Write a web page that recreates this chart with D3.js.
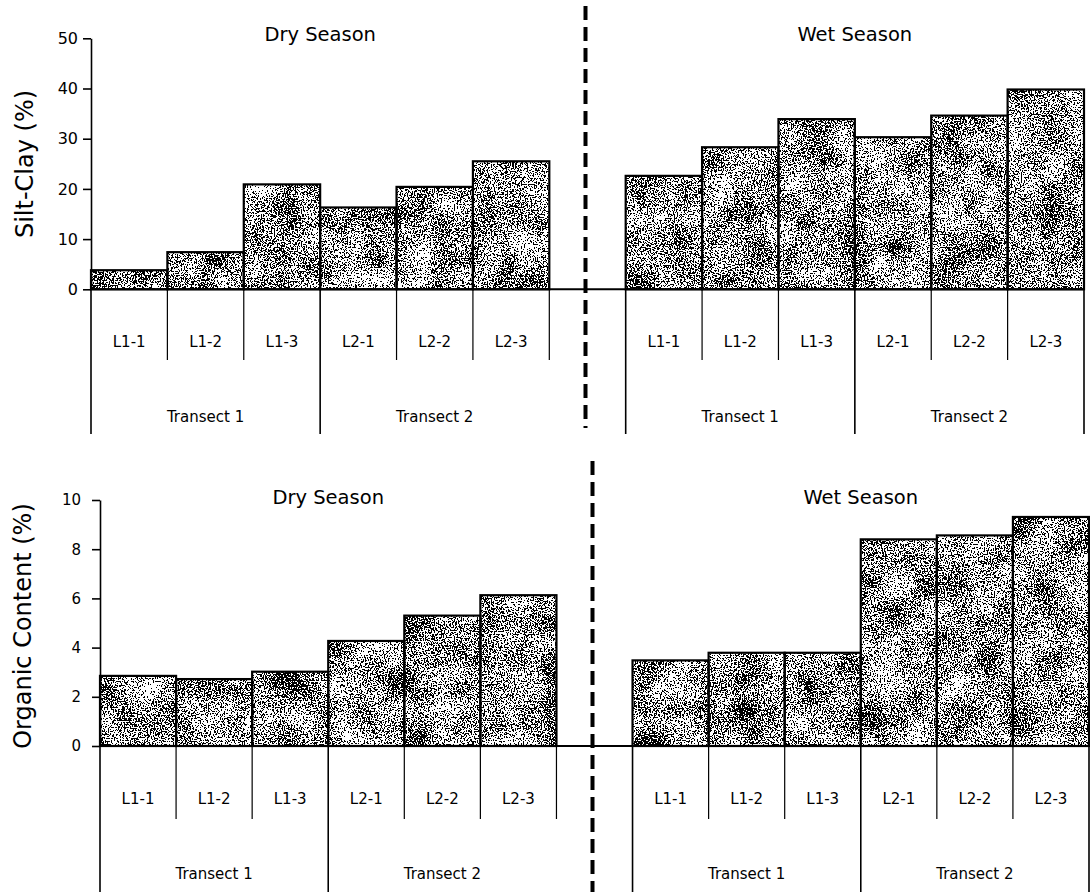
<!DOCTYPE html>
<html>
<head>
<meta charset="utf-8">
<script src="https://cdn.jsdelivr.net/npm/d3@7"></script>
<style>
  body { margin: 0; background: #fff; }
  svg { display: block; font-family: "DejaVu Sans", Verdana, sans-serif; }
</style>
</head>
<body>
<svg id="chart" width="1090" height="892"></svg>
<script>
// values
const sites = ["L1-1", "L1-2", "L1-3", "L2-1", "L2-2", "L2-3"];
const transects = ["Transect 1", "Transect 2"];
const seasons = ["Dry Season", "Wet Season"];

const siltDry = [3.8, 7.4, 20.9, 16.3, 20.4, 25.5];
const siltWet = [22.6, 28.3, 33.9, 30.3, 34.6, 39.8];
const organicDry = [2.85, 2.72, 3.02, 4.27, 5.3, 6.13];
const organicWet = [3.48, 3.79, 3.79, 8.4, 8.56, 9.31];

const siltTicks = [0, 10, 20, 30, 40, 50];
const organicTicks = [0, 2, 4, 6, 8, 10];

const svg = d3.select("#chart");

// stippled fill like the scanned original
const defs = svg.append("defs");
const f = defs.append("filter").attr("id", "stipple")
    .attr("x", 0).attr("y", 0).attr("width", 1).attr("height", 1);
f.append("feTurbulence").attr("type", "fractalNoise").attr("baseFrequency", 0.7)
    .attr("numOctaves", 2).attr("seed", 3).attr("result", "fine");
f.append("feTurbulence").attr("type", "fractalNoise").attr("baseFrequency", 0.03)
    .attr("numOctaves", 2).attr("seed", 11).attr("result", "coarse");
f.append("feComposite").attr("in", "fine").attr("in2", "coarse").attr("operator", "arithmetic")
    .attr("k1", 0).attr("k2", 0.78).attr("k3", 0.22).attr("k4", 0).attr("result", "mix");
f.append("feColorMatrix").attr("in", "mix").attr("type", "matrix")
    .attr("values", "0 0 0 0 0  0 0 0 0 0  0 0 0 0 0  -1 0 0 0 1").attr("result", "inv");
const ct = f.append("feComponentTransfer").attr("in", "inv").attr("result", "dots");
ct.append("feFuncA").attr("type", "discrete")
    .attr("tableValues", d3.range(40).map(i => i < 21 ? 0 : 1).join(" "));
f.append("feFlood").attr("flood-color", "#ffffff").attr("result", "white");
f.append("feComposite").attr("in", "dots").attr("in2", "white").attr("operator", "over");

function drawPanel(opts) {
    const g = svg.append("g");
    const keys = [];
    seasons.forEach((s, si) => {
        if (si > 0) keys.push("gap");
        sites.forEach(site => keys.push(s + "|" + site));
    });

    const x = d3.scaleBand().domain(keys).range([opts.left, opts.right]).padding(0);
    const y = d3.scaleLinear().domain([0, d3.max(opts.ticks)]).range([opts.zeroY, opts.topY]);
    const bw = x.bandwidth();

    const rows = [];
    seasons.forEach((s, si) => {
        opts.values[si].forEach((v, i) => rows.push({ key: s + "|" + sites[i], value: v }));
    });

    // bars
    g.selectAll(".bar-fill")
        .data(rows)
        .enter().append("rect")
        .attr("class", "bar-fill")
        .attr("x", d => x(d.key))
        .attr("y", d => y(d.value))
        .attr("width", bw)
        .attr("height", d => y(0) - y(d.value))
        .attr("fill", "#888")
        .attr("filter", "url(#stipple)");

    g.selectAll(".bar-edge")
        .data(rows)
        .enter().append("rect")
        .attr("class", "bar-edge")
        .attr("x", d => x(d.key))
        .attr("y", d => y(d.value))
        .attr("width", bw)
        .attr("height", d => y(0) - y(d.value))
        .attr("fill", "none")
        .attr("stroke", "#000")
        .attr("stroke-width", 2.2);

    // y axis
    const yAxis = d3.axisLeft(y).tickValues(opts.ticks).tickSize(8).tickSizeOuter(0).tickPadding(opts.tickPad);
    const ya = g.append("g")
        .attr("transform", `translate(${opts.left},0)`)
        .call(yAxis);
    ya.attr("font-size", null).attr("font-family", null);
    ya.select(".domain").attr("stroke", "#000").attr("stroke-width", 1.6);
    ya.selectAll(".tick line").attr("stroke", "#000").attr("stroke-width", 1.6);
    ya.selectAll(".tick text")
        .style("font-size", opts.tickFont)
        .attr("fill", "#000");

    // zero line across the whole width
    g.append("line")
        .attr("x1", opts.left).attr("x2", opts.right)
        .attr("y1", y(0)).attr("y2", y(0))
        .attr("stroke", "#000").attr("stroke-width", 2);

    // category separators and labels
    seasons.forEach(s => {
        const sk = sites.map(site => s + "|" + site);
        const edges = sk.map(k => x(k)).concat([x(sk[sk.length - 1]) + bw]);
        edges.forEach((ex, i) => {
            const long = (s === seasons[0]) ? (i === 0 || i === 3) : (i === 0 || i === 3 || i === 6);
            g.append("line")
                .attr("x1", ex).attr("x2", ex)
                .attr("y1", y(0)).attr("y2", long ? opts.longY : opts.shortY)
                .attr("stroke", "#000").attr("stroke-width", long ? 1.6 : 1.2);
        });
        g.selectAll(null)
            .data(sk)
            .enter().append("text")
            .attr("x", k => x(k) + bw / 2)
            .attr("y", opts.siteY)
            .attr("text-anchor", "middle")
            .attr("dominant-baseline", "central")
            .style("font-size", "15px")
            .text(k => k.split("|")[1]);
        transects.forEach((t, ti) => {
            const a = x(sk[ti * 3]);
            const b = x(sk[ti * 3 + 2]) + bw;
            g.append("text")
                .attr("x", (a + b) / 2)
                .attr("y", opts.transectY)
                .attr("text-anchor", "middle")
                .attr("dominant-baseline", "central")
                .style("font-size", "15px")
                .text(t);
        });
        // season title
        g.append("text")
            .attr("x", (x(sk[0]) + x(sk[5]) + bw) / 2)
            .attr("y", opts.titleY)
            .attr("text-anchor", "middle")
            .attr("dominant-baseline", "central")
            .style("font-size", "19.5px")
            .text(s);
    });

    // dashed season divider
    g.append("line")
        .attr("x1", x("gap") + bw / 2 - 2).attr("x2", x("gap") + bw / 2 - 2)
        .attr("y1", opts.dashTop).attr("y2", opts.dashBottom)
        .attr("stroke", "#000").attr("stroke-width", 4)
        .attr("stroke-dasharray", "14,7");

    // y title
    g.append("text")
        .attr("transform", `translate(${opts.yTitleX},${opts.yTitleY}) rotate(-90)`)
        .attr("text-anchor", "middle")
        .attr("dominant-baseline", "central")
        .style("font-size", "24px")
        .text(opts.yTitle);
}

drawPanel({
    values: [siltDry, siltWet], ticks: siltTicks, tickFont: "16px", tickPad: 5,
    left: 91, right: 1084, zeroY: 289.3, topY: 38.3,
    shortY: 360, longY: 434, siteY: 342, transectY: 417,
    titleY: 34, dashTop: 6, dashBottom: 428,
    yTitle: "Silt-Clay (%)", yTitleX: 25, yTitleY: 164
});

drawPanel({
    values: [organicDry, organicWet], ticks: organicTicks, tickFont: "15px", tickPad: 11,
    left: 100, right: 1089, zeroY: 746, topY: 500,
    shortY: 819, longY: 892, siteY: 799, transectY: 874,
    titleY: 497, dashTop: 461, dashBottom: 892,
    yTitle: "Organic Content (%)", yTitleX: 23, yTitleY: 626
});
</script>
</body>
</html>
